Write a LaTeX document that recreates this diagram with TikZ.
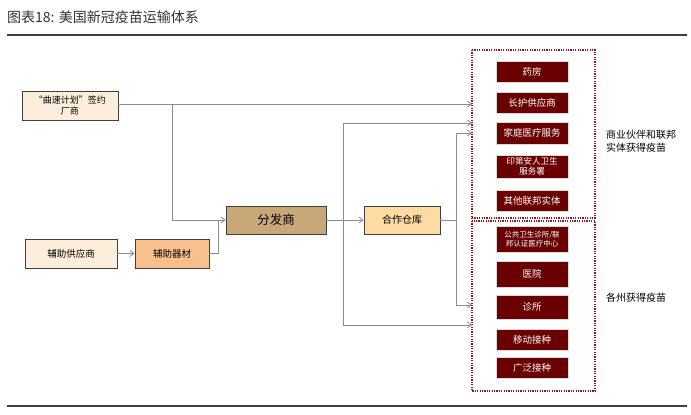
\documentclass[tikz,border=0pt]{standalone}
\usepackage{fontspec}
\setmainfont{Noto Sans CJK SC}
\usetikzlibrary{arrows.meta}
\definecolor{cream}{HTML}{FDEEDB}
\definecolor{peach}{HTML}{F8C08F}
\definecolor{tan}{HTML}{C8A878}
\definecolor{wheat}{HTML}{FDDBA2}
\definecolor{maroon}{HTML}{6A0000}
\definecolor{dotred}{HTML}{8E1B1B}
\definecolor{conn}{HTML}{8C8C8C}
\tikzset{
  lbox/.style={draw=black!75, line width=0.9pt, minimum height=29pt, font=\fontsize{9.5}{11}\selectfont, align=center, inner sep=1pt},
  mbox/.style={fill=maroon, draw=black!15, line width=0.6pt, minimum width=72pt, text=white, font=\fontsize{9.5}{11}\selectfont, align=center, inner sep=1pt},
  conn/.style={draw=conn, line width=0.8pt},
  arr/.style={conn, -{Straight Barb[length=4pt,width=6pt]}},
  dotbox/.style={draw=dotred, line width=2pt, dash pattern=on 1.2pt off 1.2pt},
}
\begin{document}
\begin{tikzpicture}[x=1pt,y=-1pt]
\useasboundingbox (0,0) rectangle (691,415);
\fill[white] (0,0) rectangle (691,415);
% title
\node[anchor=west, text=black!80, font=\fontsize{14}{16}\selectfont, inner sep=0] (title) at (7,17) {图表18: 美国新冠疫苗运输体系};
\draw[black!75, line width=1.3pt] (7,35) -- (687,35);
\draw[black!75, line width=1.3pt] (7,406) -- (687,406);

% left nodes
\node[lbox, fill=cream, minimum width=96pt, font=\fontsize{9}{11}\selectfont] (ws) at (70,105.5) {“曲速计划”签约\\厂商};
\node[lbox, fill=cream, minimum width=92pt] (sup) at (71,253.5) {辅助供应商};
\node[lbox, fill=peach, minimum width=74pt] (aux) at (172,253.5) {辅助器材};
\node[lbox, fill=tan, minimum width=100pt, minimum height=28pt, font=\fontsize{12.5}{14}\selectfont] (dist) at (276,220) {分发商};
\node[lbox, fill=wheat, minimum width=76pt, minimum height=28pt, font=\fontsize{10}{12}\selectfont] (wh) at (402,220) {合作仓库};

% dotted containers
\draw[dotbox] (472,50) rectangle (595,218);
\draw[dotbox] (472,221) rectangle (595,391);

% maroon boxes top
\node[mbox, minimum height=21pt] (m1) at (532,71.5) {药房};
\node[mbox, minimum height=21pt] (m2) at (532,102.5) {长护供应商};
\node[mbox, minimum height=22pt] (m3) at (532,133) {家庭医疗服务};
\node[mbox, minimum height=23pt, font=\fontsize{8.5}{10}\selectfont] (m4) at (532,166.5) {印第安人卫生\\服务署};
\node[mbox, minimum height=21pt] (m5) at (532,200.5) {其他联邦实体};
% maroon boxes bottom
\node[mbox, minimum height=26pt, font=\fontsize{7.5}{9.5}\selectfont] (n1) at (532,239) {公共卫生诊所/联\\邦认证医疗中心};
\node[mbox, minimum height=26pt] (n2) at (532,274) {医院};
\node[mbox, minimum height=24pt] (n3) at (532,307) {诊所};
\node[mbox, minimum height=21pt] (n4) at (532,339.5) {移动接种};
\node[mbox, minimum height=21pt] (n5) at (532,367.5) {广泛接种};

% side labels
\node[align=left, font=\fontsize{10}{13.5}\selectfont, anchor=west, inner sep=0] (lab1) at (606,141) {商业伙伴和联邦\\实体获得疫苗};
\node[align=left, font=\fontsize{10}{13}\selectfont, anchor=west, inner sep=0] (lab2) at (606,298) {各州获得疫苗};

% connector coordinates
\coordinate (t1) at (472,104);
\coordinate (t2) at (472,123);
\coordinate (t3) at (472,133);
\coordinate (t4) at (472,305);
\coordinate (t5) at (472,325);

% connectors
\draw[arr] (ws.east |- t1) -- (t1);
\draw[arr] (172,104) |- (dist.west);
\draw[arr] (sup) -- (aux);
\draw[conn] (aux.east) -| (218,220);
\draw[arr] (dist) -- (wh);
\draw[arr] (343,220) |- (t2);
\draw[arr] (343,220) |- (t5);
\draw[conn] (wh.east) -- (456,220);
\draw[arr] (456,220) |- (t3);
\draw[arr] (456,220) |- (t4);
\end{tikzpicture}
\end{document}
